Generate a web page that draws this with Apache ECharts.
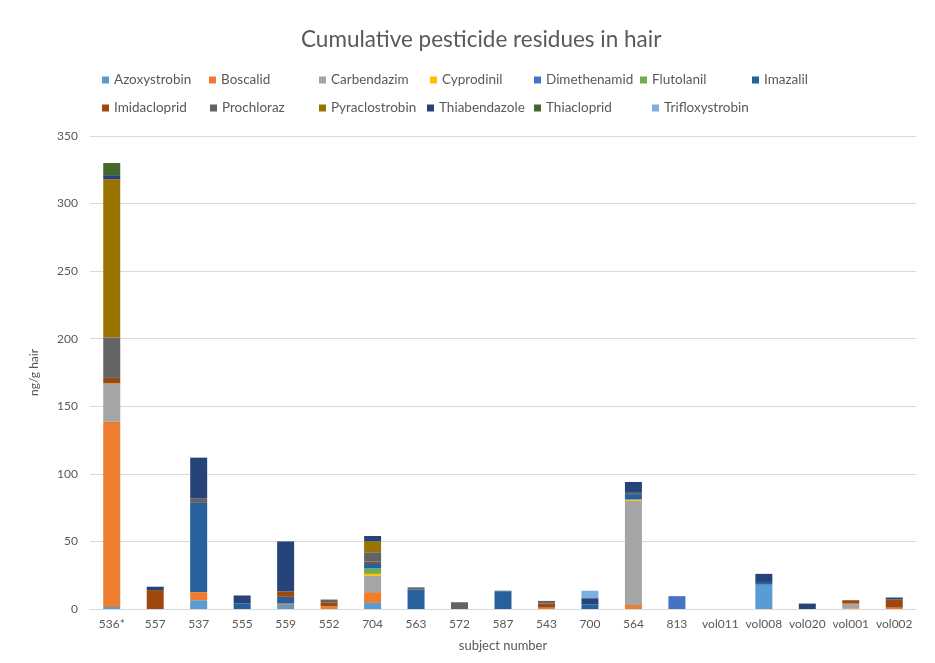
<!DOCTYPE html>
<html>
<head>
<meta charset="utf-8">
<script src="https://cdn.jsdelivr.net/npm/echarts@6/dist/echarts.min.js"></script>
<style>html,body{margin:0;padding:0;background:#fff}#c{width:935px;height:663px}</style>
</head>
<body>
<div id="c"></div>
<script>
const categories = ['536*','557','537','555','559','552','704','563','572','587','543','700','564','813','vol011','vol008','vol020','vol001','vol002'];
const azoxystrobin    = [1.5, 0, 6.5, 0, 3, 0, 4.5, 0, 0, 0, 0, 0, 0, 0, 0, 18, 0, 0, 0];
const boscalid        = [137, 0, 6, 0, 1, 2, 8, 0, 0, 0, 1, 0, 3, 0, 0, 0, 0, 0.5, 1];
const carbendazim     = [28.5, 0, 0, 0, 0, 0, 12, 0, 0, 0, 0, 0, 77, 0, 0, 0, 0, 3.5, 0];
const cyprodinil      = [0, 0, 0, 0, 0, 0, 1.5, 0, 0, 0, 0, 0, 1, 0, 0, 0, 0, 0, 0];
const dimethenamid    = [0, 0, 0, 0, 0, 0, 0, 0, 0, 0, 0, 0, 0, 9.5, 0, 0, 0, 0, 0];
const flutolanil      = [0, 0, 0, 0, 0, 0, 4, 0, 0, 0, 0, 0, 0, 0, 0, 0, 0, 0, 0];
const imazalil        = [0, 0, 66, 4, 5, 0, 4, 14.5, 0, 13, 0, 3.5, 4, 0, 0, 2, 0, 0, 0];
const imidacloprid    = [4, 14, 0, 0, 4, 3, 1, 0, 0, 0, 3, 0, 0, 0, 0, 0, 0, 2.5, 6];
const prochloraz      = [30, 0, 3.5, 0, 0, 2, 7, 1.5, 5, 0, 2, 0, 1, 0, 0, 0, 0, 0, 0];
const pyraclostrobin  = [117, 0, 0, 0, 0, 0, 8, 0, 0, 0, 0, 0, 0, 0, 0, 0, 0, 0, 0];
const thiabendazole   = [3, 2.5, 30, 6, 37, 0, 4, 0, 0, 0.5, 0, 4.5, 8, 0, 0, 6, 4, 0, 1.5];
const thiacloprid     = [9, 0, 0, 0, 0, 0, 0, 0, 0, 0, 0, 0, 0, 0, 0, 0, 0, 0, 0];
const trifloxystrobin = [0, 0, 0, 0, 0, 0, 0, 0, 0, 0, 0, 5.5, 0, 0, 0, 0, 0, 0, 0];
const yTicks = [0, 50, 100, 150, 200, 250, 300, 350];

const seriesNames = ['Azoxystrobin','Boscalid','Carbendazim','Cyprodinil','Dimethenamid','Flutolanil','Imazalil','Imidacloprid','Prochloraz','Pyraclostrobin','Thiabendazole','Thiacloprid','Trifloxystrobin'];
const seriesData = [azoxystrobin,boscalid,carbendazim,cyprodinil,dimethenamid,flutolanil,imazalil,imidacloprid,prochloraz,pyraclostrobin,thiabendazole,thiacloprid,trifloxystrobin];
const colors = ['#5B9BD5','#ED7D31','#A5A5A5','#FFC000','#4472C4','#70AD47','#26619E','#9E480E','#636363','#997300','#264478','#43682B','#7CAFDD'];

// legend layout (pixel lefts of each legend entry, two rows)
const legendLefts = [97, 204, 314, 425, 529, 635, 747, 97, 205, 314, 422, 529, 647];
const legendTops = [68, 96];

const FONT = 'Lato, "Open Sans", sans-serif';
const chart = echarts.init(document.getElementById('c'), null, {renderer: 'canvas'});
const legends = seriesNames.map((n, i) => ({
  left: legendLefts[i], top: legendTops[i < 7 ? 0 : 1],
  itemWidth: 7, itemHeight: 7, icon: 'rect', itemGap: 0,
  data: [n],
  textStyle: {color: '#595959', fontSize: 13.5, fontFamily: FONT}
}));
chart.setOption({
  animation: false,
  color: colors,
  title: {
    text: 'Cumulative pesticide residues in hair', left: 296, top: 23,
    textStyle: {color: '#595959', fontSize: 22.5, fontWeight: 'normal', fontFamily: FONT}
  },
  legend: legends,
  grid: {left: 90, right: 19, top: 136, bottom: 54, containLabel: false},
  xAxis: {
    type: 'category', data: categories,
    name: 'subject number', nameLocation: 'middle', nameGap: 30,
    nameTextStyle: {color: '#595959', fontSize: 13, fontFamily: FONT},
    axisLine: {lineStyle: {color: '#D9D9D9'}},
    axisTick: {show: false},
    axisLabel: {color: '#595959', fontSize: 12, fontFamily: FONT, margin: 9, interval: 0}
  },
  yAxis: {
    type: 'value', min: 0, max: yTicks[yTicks.length - 1], interval: 50,
    name: 'ng/g hair', nameLocation: 'middle', nameGap: 50, nameRotate: 90,
    nameTextStyle: {color: '#595959', fontSize: 12, fontFamily: FONT},
    axisLine: {show: false}, axisTick: {show: false},
    axisLabel: {color: '#595959', fontSize: 12, fontFamily: FONT, margin: 12},
    splitLine: {lineStyle: {color: '#D9D9D9'}}
  },
  series: seriesNames.map((n, i) => ({
    name: n, type: 'bar', stack: 'total', data: seriesData[i],
    barWidth: 17, itemStyle: {color: colors[i]}
  }))
});
</script>
</body>
</html>
